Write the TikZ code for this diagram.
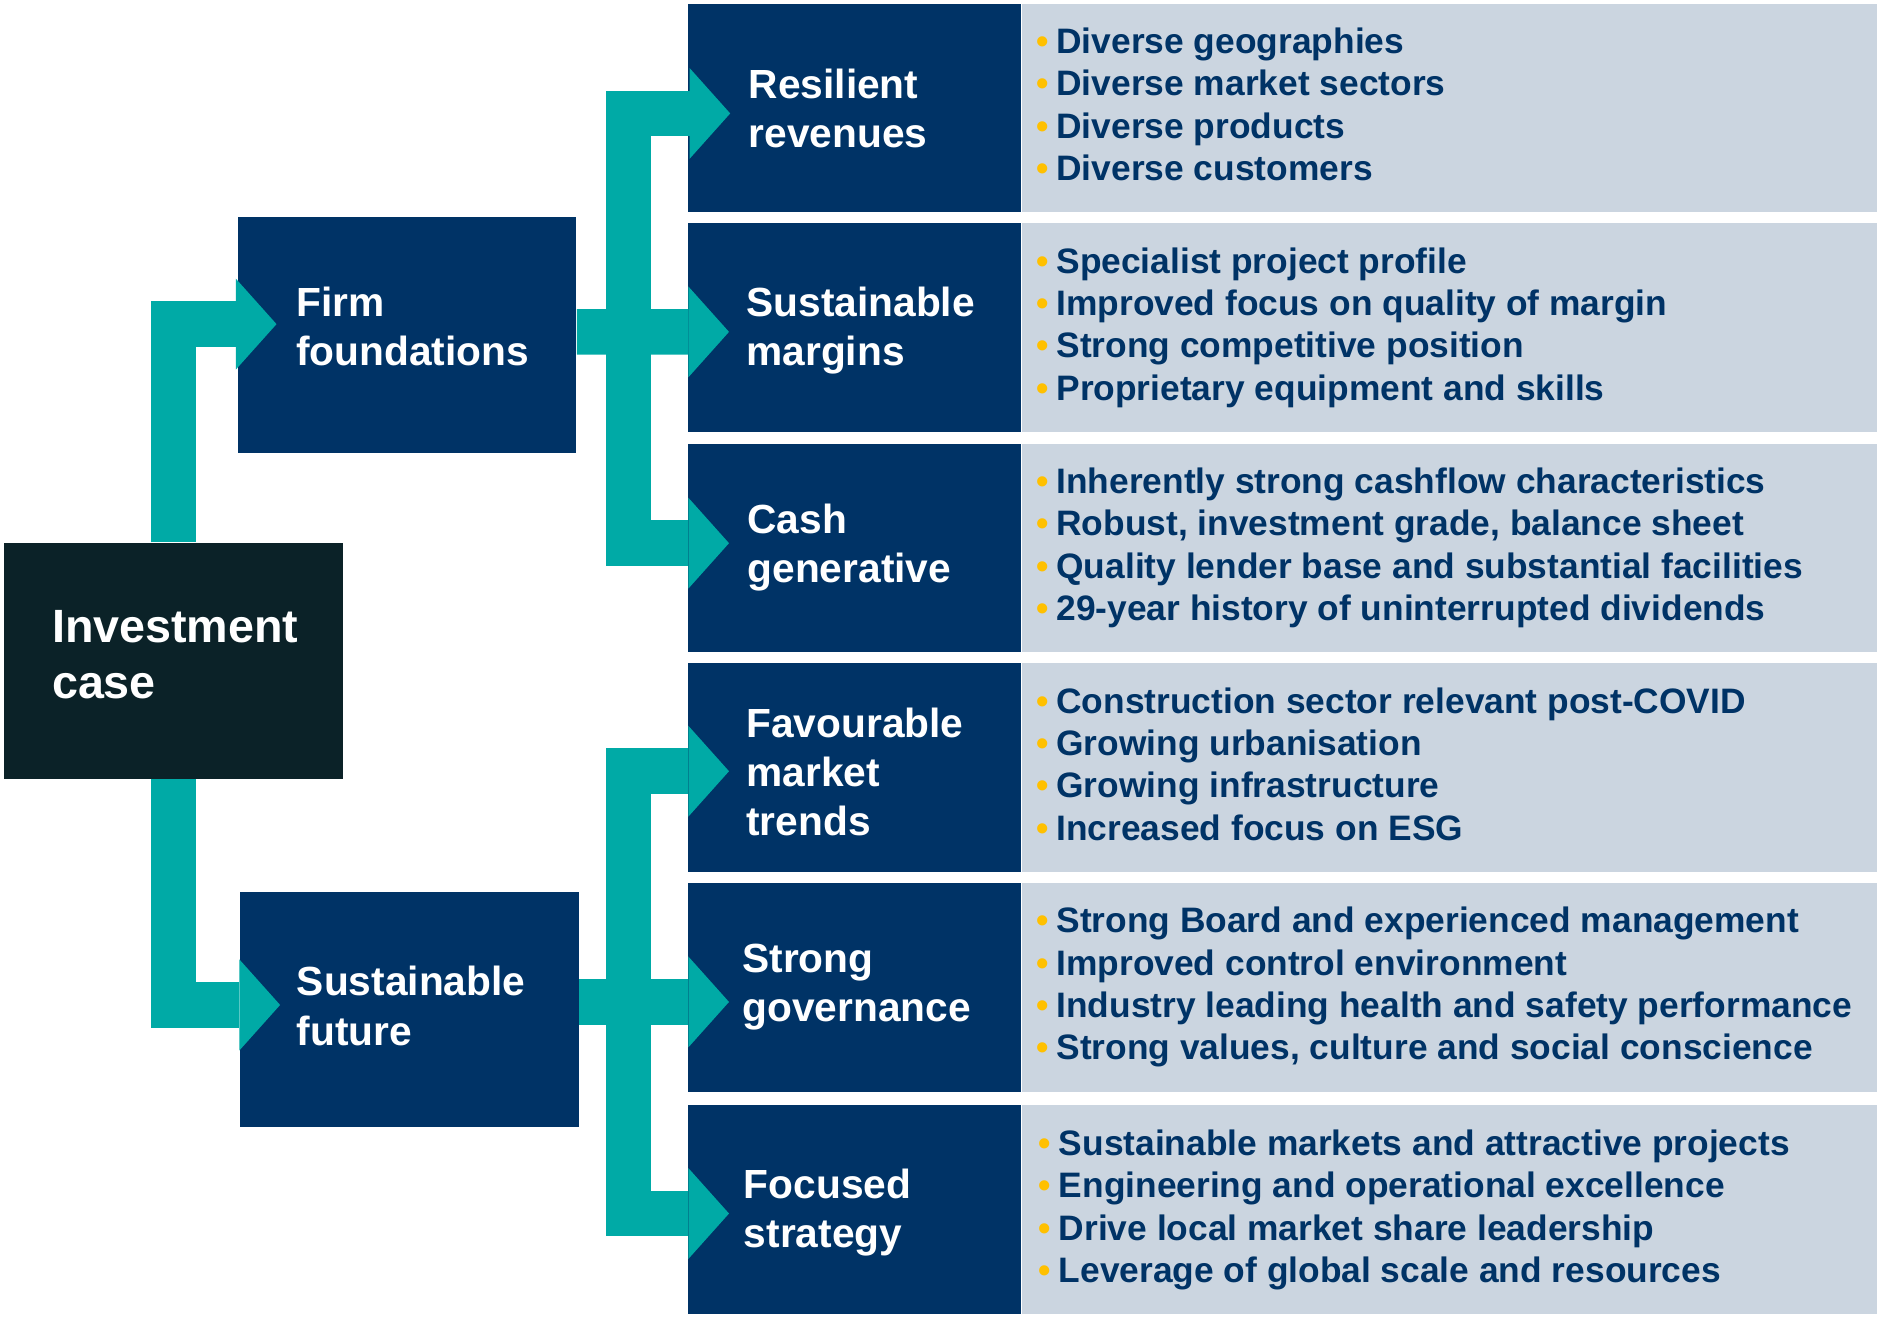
\documentclass[tikz,border=0pt]{standalone}
\usepackage{fontspec}
\setmainfont{Liberation Sans}
\usetikzlibrary{arrows.meta,calc}

\definecolor{boxnavy}{HTML}{003366}
\definecolor{casedark}{HTML}{0B2228}
\definecolor{flowteal}{HTML}{00AAA6}
\definecolor{listgrey}{HTML}{CBD5E0}
\definecolor{dotgold}{HTML}{FFC000}

\newcommand{\ydot}{{\color{dotgold}\char"2022}\hspace{5pt}}

\tikzset{every picture/.style={line width=0.75pt}}
\tikzset{
  navybox/.style={fill=boxnavy, anchor=north west, inner sep=0pt, minimum width=208.5pt, minimum height=130.875pt},
  listbox/.style={fill=listgrey, anchor=north west, inner sep=0pt, minimum width=537pt, minimum height=130.875pt},
  headtext/.style={anchor=base west, inner sep=0pt, align=left, text=white, font=\fontsize{25.5}{30.75}\selectfont\bfseries},
  listtext/.style={anchor=base west, inner sep=0pt, align=left, text=boxnavy, font=\fontsize{22.15}{26.55}\selectfont\bfseries},
  flow/.style={draw=flowteal, line width=28.5pt, -{Triangle[length=25.5pt 0 0, width=57pt 0 0, line width=0pt]}}
}

\begin{document}
\begin{tikzpicture}[x=0.75pt,y=0.75pt,yscale=-1,xscale=1]
     \useasboundingbox (0,0) rectangle (1568,1102);
     %Shape: Rectangle [investment case]
     \draw (3,453) node [navybox, fill=casedark, minimum width=212.25pt, minimum height=147.75pt] (inv) {};
     %Shape: Rectangle [firm foundations]
     \draw (198,181) node [navybox, minimum width=212.25pt, minimum height=147.4pt] (firm) {};
     %Shape: Rectangle [sustainable future]
     \draw (200,745) node [navybox, minimum width=212.25pt, minimum height=147pt] (future) {};
     %Shape: Rectangle [right column]
     \draw (574,2.5) node [navybox] (rev) {};
     \draw (574,186) node [navybox] (marg) {};
     \draw (574,370) node [navybox] (cash) {};
     \draw (574,553.5) node [navybox] (fav) {};
     \draw (574,737) node [navybox] (gov) {};
     \draw (574,923) node [navybox] (foc) {};
     %Shape: Rectangle [lists]
     \draw (rev.north east) node [listbox] (revbg) {};
     \draw (marg.north east) node [listbox] (margbg) {};
     \draw (cash.north east) node [listbox] (cashbg) {};
     \draw (fav.north east) node [listbox] (favbg) {};
     \draw (gov.north east) node [listbox] (govbg) {};
     \draw (foc.north east) node [listbox] (focbg) {};

     % Text Node (anchored on the last baseline)
     \draw (43,583.4) node [headtext, font=\fontsize{29.25}{34.8}\selectfont\bfseries] (invtxt) {Investment\\case};
     % Text Node
     \draw (247,305.6) node [headtext] (firmtxt) {Firm\\foundations};
     % Text Node
     \draw (247.5,873) node [headtext] (futuretxt) {Sustainable\\future};
     % Text Node
     \draw (625,123) node [headtext] (revtxt) {Resilient\\revenues};
     % Text Node
     \draw (623,305.5) node [headtext] (margtxt) {Sustainable\\margins};
     % Text Node
     \draw (624,486.6) node [headtext] (cashtxt) {Cash\\generative};
     % Text Node
     \draw (623,698) node [headtext] (favtxt) {Favourable\\market\\trends};
     % Text Node
     \draw (619.6,853.5) node [headtext] (govtxt) {Strong\\governance};
     % Text Node
     \draw (621,1042) node [headtext] (foctxt) {Focused\\strategy};

     % Text Node
     \draw (865,150.95) node [listtext] (revlist) {\ydot Diverse geographies\\ \ydot Diverse market sectors\\ \ydot Diverse products\\ \ydot Diverse customers};
     % Text Node
     \draw (865,334.45) node [listtext] (marglist) {\ydot Specialist project profile\\ \ydot Improved focus on quality of margin\\ \ydot Strong competitive position\\ \ydot Proprietary equipment and skills};
     % Text Node
     \draw (865,518.45) node [listtext] (cashlist) {\ydot Inherently strong cashflow characteristics\\ \ydot Robust, investment grade, balance sheet\\ \ydot Quality lender base and substantial facilities\\ \ydot 29-year history of uninterrupted dividends};
     % Text Node
     \draw (865,701.95) node [listtext] (favlist) {\ydot Construction sector relevant post-COVID\\ \ydot Growing urbanisation\\ \ydot Growing infrastructure\\ \ydot Increased focus on ESG};
     % Text Node
     \draw (865,885.45) node [listtext] (govlist) {\ydot Strong Board and experienced management\\ \ydot Improved control environment\\ \ydot Industry leading health and safety performance\\ \ydot Strong values, culture and social conscience};
     % Text Node
     \draw (867,1071.45) node [listtext] (foclist) {\ydot Sustainable markets and attractive projects\\ \ydot Engineering and operational excellence\\ \ydot Drive local market share leadership\\ \ydot Leverage of global scale and resources};

     %Connectors
     \coordinate (hubA) at ($(firm.east)+(43,-2.5)$);
     \coordinate (hubB) at ($(future.east)+(41,-6.5)$);
     \draw [flow] (inv.north) |- ($(firm.west)+(33,-9)$);
     \draw [flow] (inv.south) |- ($(future.west)+(34,-4)$);
     \draw [flow] ($(firm.east)+(0,-2.5)$) -- ($(marg.west)+(35,3.5)$);
     \draw [flow] (hubA) |- ($(rev.west)+(36,4.5)$);
     \draw [flow] (hubA) |- ($(cash.west)+(35,-4)$);
     \draw [flow] ($(future.east)+(0,-6.5)$) -- ($(gov.west)+(35,12.25)$);
     \draw [flow] (hubB) |- ($(fav.west)+(35,3)$);
     \draw [flow] (hubB) |- ($(foc.west)+(35,3)$);
\end{tikzpicture}
\end{document}
